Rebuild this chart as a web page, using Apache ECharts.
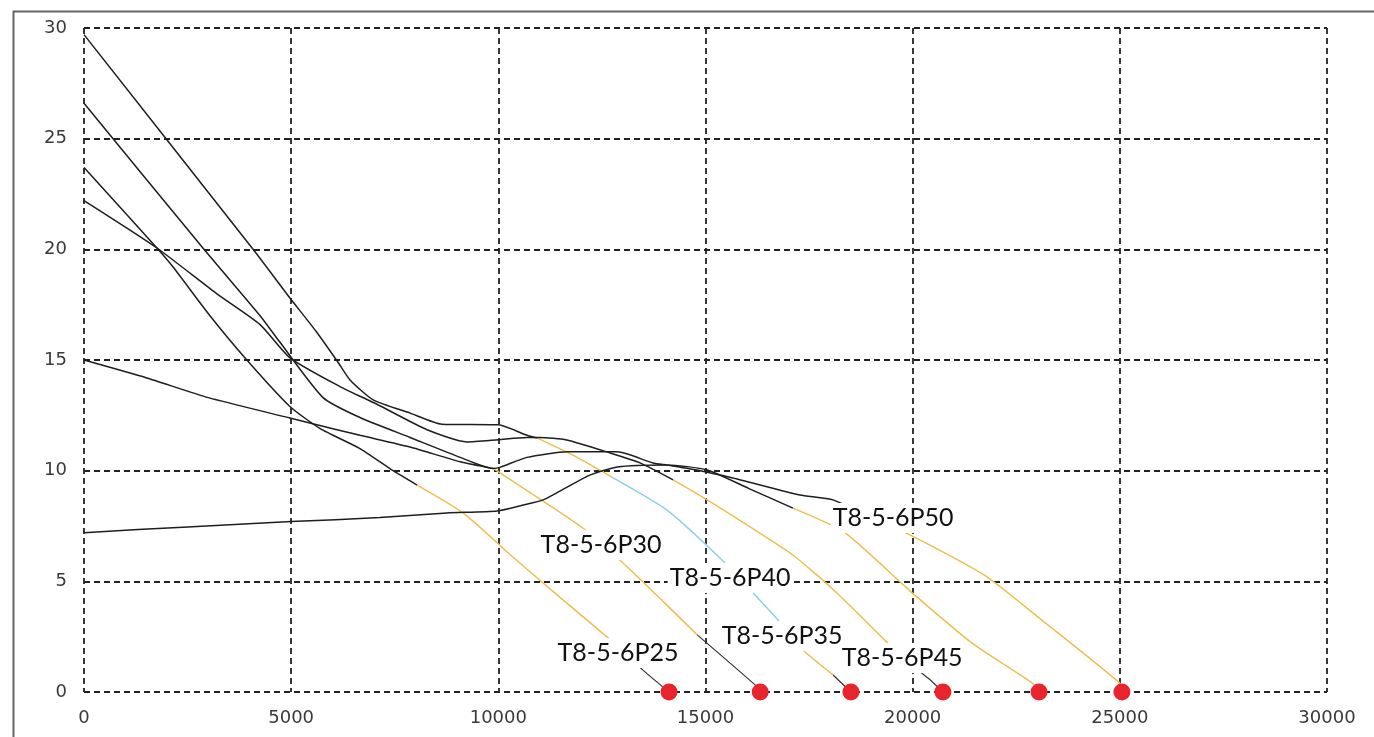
<!DOCTYPE html>
<html>
<head>
<meta charset="utf-8">
<script src="https://cdn.jsdelivr.net/npm/echarts@6/dist/echarts.min.js"></script>
<style>html,body{margin:0;padding:0;background:#fff}#c{width:1374px;height:737px}</style>
</head>
<body>
<div id="c"></div>
<script>
// ---- data (flow, head) ----
const p25Black  = [[0,23.7],[1760,20.06],[2150,19.2],[3040,17.0],[3930,15.0],[4970,12.9],[5700,11.9],[6660,11.0],[7460,10.0],[8040,9.35]];
const p25Orange = [[8040,9.35],[9150,8.09],[10350,6.1],[11560,4.16],[12620,2.49],[12940,1.99]];
const p25Leader = [[12940,1.99],[13490,0.99],[14120,0]];

const p30Black  = [[0,15.0],[1500,14.2],[3000,13.3],[4970,12.38],[5450,12.15],[6660,11.6],[7870,11.07],[9080,10.4],[9870,10.1]];
const p30Orange = [[9870,10.1],[10040,9.9],[12040,7.41],[13060,5.74],[14000,4.05],[14800,2.58]];
const p30Leader = [[14800,2.58],[16250,0.23],[16320,0]];

const p35Black  = [[0,29.7],[4080,20.0],[4970,17.8],[5600,16.3],[6130,14.9],[6420,14.1],[6980,13.2],[7870,12.6],[8640,12.1],[10000,12.07],[10690,11.6],[10930,11.48]];
const p35Orange = [[10930,11.48],[11800,10.7],[12740,9.71]];
const p35Cyan   = [[12740,9.71],[14070,8.22],[15400,5.96],[16240,4.29],[16750,3.25],[17040,2.57]];
const p35Orange2= [[17040,2.57],[17350,1.9],[18080,0.77]];
const p35Leader = [[18080,0.77],[18510,0]];

const p40Black  = [[0,22.2],[1760,20.06],[3200,18.0],[4250,16.6],[4970,15.1],[6180,13.8],[7070,13.0],[8280,11.85],[9240,11.3],[10000,11.4],[10690,11.5],[11000,11.5],[11650,11.39],[12700,10.8],[13420,10.35],[14220,9.58]];
const p40Orange = [[14220,9.58],[15040,8.68],[16000,7.55],[17100,6.2],[18100,4.6],[19350,2.3],[19744,1.54]];
const p40Leader = [[19744,1.54],[20370,0.63],[20730,0]];

const p45Black  = [[0,7.2],[2500,7.46],[5000,7.7],[7140,7.88],[8760,8.09],[9970,8.18],[10600,8.45],[11080,8.68],[11660,9.26],[12210,9.8],[12870,10.17],[14070,10.26],[15040,10.03],[16050,9.19],[17110,8.31]];
const p45Orange = [[17110,8.31],[18340,7.23],[19940,4.56],[21460,2.17],[22880,0.41],[23050,0]];

const p50Black  = [[0,26.6],[2870,20.06],[4250,17.0],[4730,15.8],[5770,13.3],[6660,12.4],[7870,11.5],[9080,10.6],[9870,10.1],[10040,10.15],[10690,10.6],[11660,10.85],[12870,10.85],[13730,10.35],[14070,10.25],[14870,10.0],[15660,9.67],[17280,8.9],[18080,8.68],[19500,7.4]];
const p50Orange = [[19500,7.4],[19850,7.18],[21720,5.29],[23050,3.35],[25000,0.4],[25050,0]];

const endFlows = [14120, 16320, 18510, 20730, 23050, 25050];

const labelNames = ['T8-5-6P25','T8-5-6P30','T8-5-6P40','T8-5-6P35','T8-5-6P45','T8-5-6P50'];
const labelX = [12889, 12479, 15593, 16848, 19744, 19527];
const labelY = [1.76, 6.64, 5.15, 2.53, 1.54, 7.86];

// ---- styles ----
const BLACK = '#1e1e1e', ORANGE = '#EDBF4E', CYAN = '#8FCFE2', LEADER = '#333';

function seg(data, color, width, z) {
  return {type:'line', data:data, symbol:'none', silent:true, animation:false,
    smooth:0.2, z:z||2,
    lineStyle:{color:color, width:width||1.5}};
}

const series = [
  seg(p25Black, BLACK), seg(p25Orange, ORANGE), seg(p25Leader, LEADER, 1.2),
  seg(p30Black, BLACK), seg(p30Orange, ORANGE), seg(p30Leader, LEADER, 1.2),
  seg(p35Black, BLACK), seg(p35Orange, ORANGE), seg(p35Cyan, CYAN), seg(p35Orange2, ORANGE), seg(p35Leader, LEADER, 1.2),
  seg(p40Black, BLACK), seg(p40Orange, ORANGE), seg(p40Leader, LEADER, 1.2),
  seg(p45Black, BLACK), seg(p45Orange, ORANGE),
  seg(p50Black, BLACK), seg(p50Orange, ORANGE),
  {type:'scatter', silent:true, animation:false, z:6, symbol:'circle', symbolSize:17,
   itemStyle:{color:'#E8242C', opacity:1}, data:endFlows.map(function(x){return [x,0];})},
  {type:'scatter', silent:true, animation:false, z:5, symbolSize:0,
   itemStyle:{color:'#000', opacity:1},
   data:labelNames.map(function(n,i){return [labelX[i], labelY[i], n];}),
   label:{show:true, position:'inside', formatter:function(p){return p.data[2];},
     color:'#111', opacity:1, textBorderWidth:0, textBorderColor:'transparent',
     fontFamily:'Lato', fontSize:25, lineHeight:30,
     backgroundColor:'#fff', padding:[0,2]}}
];

const gridLine = {show:true, lineStyle:{color:'#222', width:1.8, type:[6,4]}};
const tickFont = {color:'#3a3a3a', fontFamily:'DejaVu Sans', fontSize:18};

const chart = echarts.init(document.getElementById('c'), null, {renderer:'canvas'});
chart.setOption({
  animation:false,
  backgroundColor:'#fff',
  grid:{left:84, right:47, top:28, bottom:45, containLabel:false},
  xAxis:{type:'value', min:0, max:30000, interval:5000,
    axisLine:{show:false}, axisTick:{show:false}, splitLine:gridLine,
    axisLabel:Object.assign({margin:17, formatter:function(v){return String(v);}}, tickFont)},
  yAxis:{type:'value', min:0, max:30, interval:5,
    axisLine:{show:false}, axisTick:{show:false}, splitLine:gridLine,
    axisLabel:Object.assign({margin:17}, tickFont)},
  graphic:[{type:'rect', left:11, top:9, z:-10, silent:true,
    shape:{width:1400, height:800}, style:{fill:'none', stroke:'#666', lineWidth:2}}],
  series:series
});
</script>
</body>
</html>
